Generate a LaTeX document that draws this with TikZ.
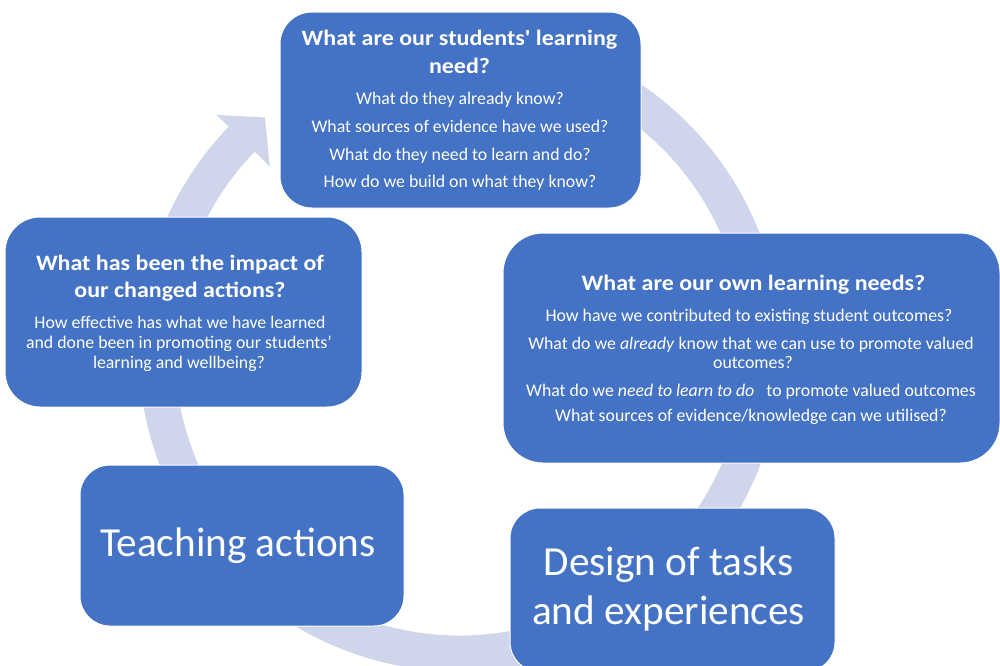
\documentclass[tikz,border=0pt]{standalone}
\usepackage{fontspec}
\setmainfont{Carlito}
\newfontfamily\headfont{Carlito}[FakeStretch=1.09]
\usetikzlibrary{calc}
\definecolor{boxblue}{HTML}{4472C4}
\definecolor{ringblue}{HTML}{CFD5EA}

\begin{document}
\begin{tikzpicture}[x=1pt,y=-1pt,
  card/.style={fill=boxblue, draw=white, line width=1pt, rounded corners=#1, inner sep=0pt},
  card/.default=30pt,
  ttl/.style={text=white, anchor=base, inner sep=0pt, font=\headfont\bfseries\fontsize{22}{26}\selectfont},
  qline/.style={text=white, anchor=base, inner sep=0pt, font=\fontsize{17.8}{20.5}\selectfont},
  big/.style={text=white, anchor=base, inner sep=0pt, font=\fontsize{41.3}{46}\selectfont}]
\useasboundingbox (0,0) rectangle (1000,665);
\clip (0,0) rectangle (1000,665);

% the cycle: a wide circular band ending in an arrowhead at the upper left
\coordinate (c) at (460,350);
\draw[ringblue, line width=36pt] ($(c)+(-100:303.5)$) arc[start angle=-100, end angle=224, radius=303.5];
\fill[ringblue] ($(c)+(224:264.5)$) -- ($(c)+(224:338.5)$) -- ($(c)+(230:303.5)$) -- cycle;

% stage cards
\node[card=32pt, minimum width=361pt, minimum height=196pt] (need) at (460.5,110) {};
\node[card=40pt, minimum width=497pt, minimum height=230pt] (own) at (751.5,348) {};
\node[card=35pt, minimum width=357pt, minimum height=190pt] (impact) at (183.5,312) {};
\node[card=30pt, minimum width=324pt, minimum height=161pt] (teach) at (242,545.5) {};
\node[card=30pt, minimum width=325pt, minimum height=164pt] (design) at (672.5,590) {};

% students' learning needs
\node[ttl] (need-t1) at (459.5,45) {What are our students' learning};
\node[ttl] (need-t2) at (459.5,73) {need?};
\node[qline] (need-q1) at (460,104) {What do they already know?};
\node[qline] (need-q2) at (460,132) {What sources of evidence have we used?};
\node[qline] (need-q3) at (460,160) {What do they need to learn and do?};
\node[qline] (need-q4) at (460,187) {How do we build on what they know?};

% our own learning needs
\node[ttl] (own-t1) at (753.5,290) {What are our own learning needs?};
\node[qline] (own-q1) at (749,321) {How have we contributed to existing student outcomes?};
\node[qline] (own-q2) at (751,349) {What do we \textit{already} know that we can use to promote valued};
\node[qline] (own-q2b) at (753,368) {outcomes?};
\node[qline] (own-q3) at (751,396) {What do we \textit{need to learn to do}\ \ \ to promote valued outcomes};
\node[qline] (own-q4) at (751,421) {What sources of evidence/knowledge can we utilised?};

% impact of changed actions
\node[ttl] (impact-t1) at (180,270) {What has been the impact of};
\node[ttl] (impact-t2) at (180,297) {our changed actions?};
\node[qline] (impact-q1) at (180,328) {How effective has what we have learned};
\node[qline] (impact-q2) at (179,348) {and done been in promoting our students’};
\node[qline] (impact-q3) at (179,368) {learning and wellbeing?};

% action stages
\node[big] (teach-l) at (238,556) {Teaching actions};
\node[big] (design-l1) at (668.5,575) {Design of tasks};
\node[big] (design-l2) at (668.5,624) {and experiences};
\end{tikzpicture}
\end{document}
